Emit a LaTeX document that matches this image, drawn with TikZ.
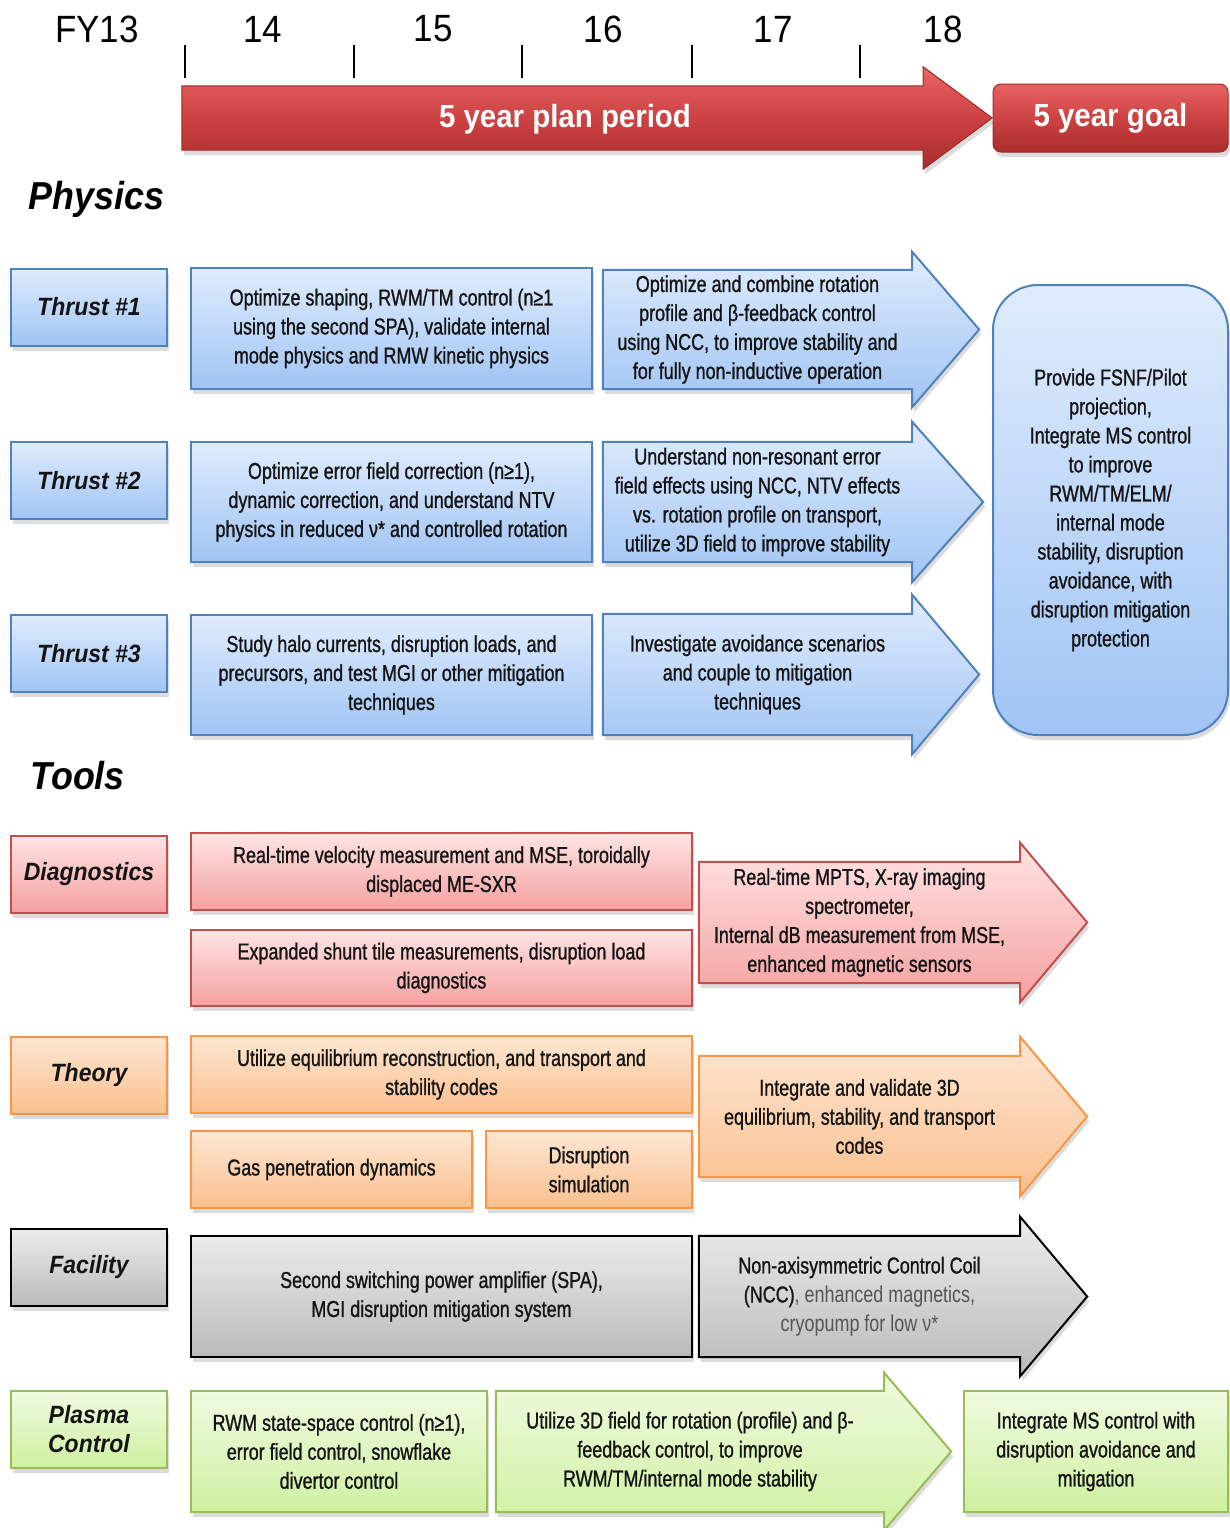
\documentclass[tikz,border=0pt]{standalone}
\usepackage{fontspec}
\setmainfont{Liberation Sans}
\newfontfamily\narrowfont{Liberation Sans}[FakeStretch=0.78, FakeBold=1.0]
\newfontfamily\headfont{Liberation Sans}[FakeStretch=0.92]
\usetikzlibrary{positioning, calc, shadows, backgrounds}

\definecolor{ink}{RGB}{20,20,20}
\definecolor{softink}{RGB}{85,85,85}
\definecolor{bline}{RGB}{79,129,189}
\definecolor{btop}{RGB}{224,236,253}
\definecolor{bbot}{RGB}{160,196,244}
\definecolor{rline}{RGB}{192,80,77}
\definecolor{rtop}{RGB}{255,228,228}
\definecolor{rbot}{RGB}{245,160,160}
\definecolor{oline}{RGB}{247,150,70}
\definecolor{otop}{RGB}{253,230,210}
\definecolor{obot}{RGB}{250,192,143}
\definecolor{gtop}{RGB}{236,236,236}
\definecolor{gbot}{RGB}{186,186,186}
\definecolor{eline}{RGB}{155,187,89}
\definecolor{etop}{RGB}{240,251,224}
\definecolor{ebot}{RGB}{206,240,160}
\definecolor{plantop}{RGB}{232,100,100}
\definecolor{planmid}{RGB}{204,66,66}
\definecolor{planbot}{RGB}{170,44,44}
\definecolor{planline}{RGB}{160,40,40}

\newcommand\bodytext{\narrowfont\fontsize{23}{29}\selectfont}
\newcommand\lighttext{\fontspec{Liberation Sans}[FakeStretch=0.78]\fontsize{23}{29}\selectfont}
\newcommand\tagtext{\headfont\fontsize{25}{29}\selectfont\bfseries\itshape}

% outline of a fat arrow around an (undrawn) body node
\newcommand\arrowbody[4]{%
  \begin{scope}[on background layer]
    \path[#4] (#1.north west) -- (#1.north east) -- ++(0,-#2) -- ($(#1.east)+(#3,0)$)
      -- ($(#1.south east)+(0,#2)$) -- (#1.south east) -- (#1.south west) -- cycle;
  \end{scope}}

\tikzset{
  shade/.style={drop shadow={opacity=0.28, shadow xshift=2pt, shadow yshift=-5pt}},
  blu/.style={draw=bline, top color=btop, bottom color=bbot},
  pnk/.style={draw=rline, top color=rtop, bottom color=rbot},
  org/.style={draw=oline, top color=otop, bottom color=obot},
  gry/.style={draw=black, top color=gtop, bottom color=gbot},
  grn/.style={draw=eline, top color=etop, bottom color=ebot},
  tag/.style={rectangle, line width=2pt, shade, minimum width=156pt, minimum height=77pt,
    font=\tagtext, text=ink, align=center, inner sep=0pt},
  box/.style={rectangle, line width=2pt, shade, font=\bodytext, text=ink, align=center, inner sep=2pt},
  body/.style={rectangle, font=\bodytext, text=ink, align=center, inner sep=2pt},
  arr/.style={line width=2pt, shade},
  year/.style={font=\headfont\fontsize{38}{40}\selectfont, text=black},
  head/.style={font=\headfont\fontsize{39}{40}\selectfont\bfseries\itshape, text=black},
  banner/.style={draw=planline, line width=1pt, top color=plantop, bottom color=planbot,
    middle color=planmid, shade},
  bannertext/.style={font=\headfont\fontsize{32}{36}\selectfont\bfseries, text=white}
}

\begin{document}
\begin{tikzpicture}[x=1pt, y=-1pt]
  \useasboundingbox (0,0) rectangle (1230,1528);

  % time line
  \foreach \x/\yr in {97/FY13,263/14,433/15,603/16,773/17,943/18}
    \node[year] (yr\yr) at (\x,29) {\yr};
  \foreach \x in {185,354,522,692,860}
    \draw[line width=1.6pt] (\x,45) -- (\x,78);
  \node[body, minimum width=741pt, minimum height=64pt] (plan) at (552.5,118) {};
  \arrowbody{plan}{19}{69}{banner}
  \node[bannertext] (plantxt) at (565,119) {5 year plan period};
  \node[banner, rectangle, rounded corners=8pt, minimum width=235pt, minimum height=68pt,
    font=\headfont\fontsize{32}{36}\selectfont\bfseries, text=white] (goal5) at (1110.5,118) {5 year goal};

  % physics
  \node[head, anchor=west] (physics) at (25,199) {Physics};
  \node[tag, blu] (thr1) at (89,307) {Thrust \#1};
  \node[tag, blu] (thr2) at (89,480.5) {Thrust \#2};
  \node[tag, blu] (thr3) at (89,653.5) {Thrust \#3};

  \node[box, blu, minimum width=401pt, minimum height=121pt] (p1a) at (391.5,328.5)
    {Optimize shaping, RWM/TM control (n≥1\\using the second SPA), validate internal\\mode physics and RMW kinetic physics};
  \node[box, blu, minimum width=401pt, minimum height=120pt] (p2a) at (391.5,502)
    {Optimize error field correction (n≥1),\\dynamic correction, and understand NTV\\physics in reduced ν* and controlled rotation};
  \node[box, blu, minimum width=401pt, minimum height=120pt] (p3a) at (391.5,675)
    {Study halo currents, disruption loads, and\\precursors, and test MGI or other mitigation\\techniques};

  \node[body, minimum width=309pt, minimum height=119pt] (p1b) at (757.5,329.5)
    {Optimize and combine rotation\\profile and β-feedback control\\using NCC, to improve stability and\\for fully non-inductive operation};
  \arrowbody{p1b}{18}{67}{arr, blu}
  \node[body, minimum width=309pt, minimum height=120pt] (p2b) at (757.5,502)
    {Understand non-resonant error\\field effects using NCC, NTV effects\\vs. rotation profile on transport,\\utilize 3D field to improve stability};
  \arrowbody{p2b}{20}{71}{arr, blu}
  \node[body, minimum width=309pt, minimum height=121pt] (p3b) at (757.5,674.5)
    {Investigate avoidance scenarios\\and couple to mitigation\\techniques};
  \arrowbody{p3b}{19}{67}{arr, blu}

  \node[box, blu, rounded corners=45pt, minimum width=235pt, minimum height=450pt] (pgoal) at (1110.5,510)
    {Provide FSNF/Pilot\\projection,\\Integrate MS control\\to improve\\RWM/TM/ELM/\\internal mode\\stability, disruption\\avoidance, with\\disruption mitigation\\protection};

  % tools
  \node[head, anchor=west] (tools) at (27,776) {Tools};
  \node[tag, pnk] (diag) at (89,874) {Diagnostics};
  \node[tag, org] (theory) at (89,1075) {Theory};
  \node[tag, gry] (facil) at (89,1267.5) {Facility};
  \node[tag, grn] (plasma) at (89,1429.5) {Plasma\\Control};

  \node[box, pnk, minimum width=501pt, minimum height=77pt] (d1) at (441.5,871.5)
    {Real-time velocity measurement and MSE, toroidally\\displaced ME-SXR};
  \node[box, pnk, minimum width=501pt, minimum height=76pt] (d2) at (441.5,968)
    {Expanded shunt tile measurements, disruption load\\diagnostics};
  \node[body, minimum width=321pt, minimum height=121pt] (d3) at (859.5,922.5)
    {Real-time MPTS, X-ray imaging\\spectrometer,\\Internal dB measurement from MSE,\\enhanced magnetic sensors};
  \arrowbody{d3}{19}{67}{arr, pnk}

  \node[box, org, minimum width=501pt, minimum height=77pt] (t1) at (441.5,1074.5)
    {Utilize equilibrium reconstruction, and transport and\\stability codes};
  \node[box, org, minimum width=281pt, minimum height=77pt] (t2) at (331.5,1169.5)
    {Gas penetration dynamics};
  \node[box, org, minimum width=206pt, minimum height=77pt] (t3) at (589,1169.5)
    {Disruption\\simulation};
  \node[body, minimum width=321pt, minimum height=121pt] (t4) at (859.5,1116.5)
    {Integrate and validate 3D\\equilibrium, stability, and transport\\codes};
  \arrowbody{t4}{19}{67}{arr, org}

  \node[box, gry, minimum width=501pt, minimum height=121pt] (f1) at (441.5,1296.5)
    {Second switching power amplifier (SPA),\\MGI disruption mitigation system};
  \node[body, minimum width=321pt, minimum height=121pt] (f2) at (859.5,1296.5)
    {Non-axisymmetric Control Coil\\(NCC){\lighttext\color{softink}, enhanced magnetics,}\\{\lighttext\color{softink}cryopump for low ν*}};
  \arrowbody{f2}{19}{67}{arr, gry}

  \node[box, grn, minimum width=296pt, minimum height=121pt] (c1) at (339,1451.5)
    {RWM state-space control (n≥1),\\error field control, snowflake\\divertor control};
  \node[body, minimum width=388pt, minimum height=121pt] (c2) at (690,1451.5)
    {Utilize 3D field for rotation (profile) and β-\\feedback control, to improve\\RWM/TM/internal mode stability};
  \arrowbody{c2}{18}{67}{arr, grn}
  \node[box, grn, minimum width=264pt, minimum height=121pt] (c3) at (1096,1451.5)
    {Integrate MS control with\\disruption avoidance and\\mitigation};
\end{tikzpicture}
\end{document}
